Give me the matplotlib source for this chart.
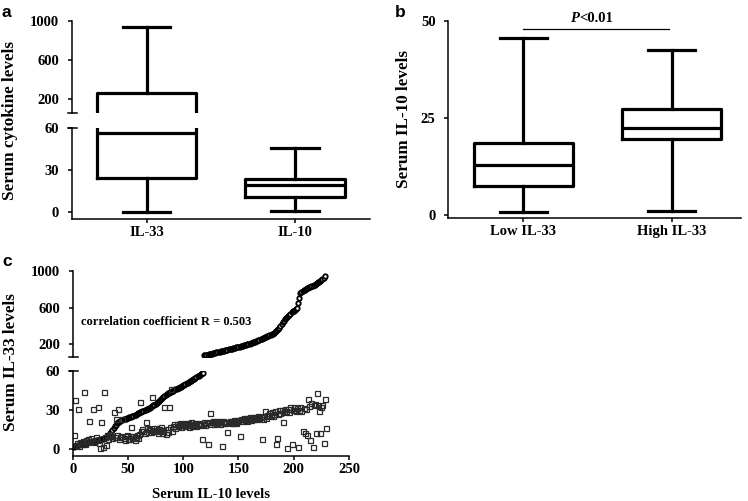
import numpy as np
import matplotlib
matplotlib.use("Agg")
import matplotlib.pyplot as plt

plt.rcParams['font.family'] = ['Liberation Serif', 'DejaVu Serif']
plt.rcParams['font.weight'] = 'bold'
plt.rcParams['axes.labelweight'] = 'bold'

W, H = 748, 501

# panel a: summary of box plots (whislo, q1, med, q3, whishi)
a_labels = ["IL-33", "IL-10"]
a_stats = [[0, 24.1, 56.5, 262, 941],
           [0.7, 10.4, 18.9, 23.4, 45.8]]

# panel b
b_labels = ["Low IL-33", "High IL-33"]
b_stats = [[0.7, 7.55, 13.0, 18.5, 45.7],
           [1.0, 19.7, 22.4, 27.4, 42.5]]

# panel c: IL-33 (sorted, circles) and IL-10 (squares) per sample
il33 = [1.5, 2.0, 2.3, 2.6, 3.0, 3.3, 3.5, 3.8, 4.0, 4.2,
        4.4, 4.6, 4.8, 5.0, 5.2, 5.4, 5.6, 5.8, 6.0, 6.2,
        6.4, 6.6, 6.8, 7.0, 7.2, 7.5, 7.8, 8.2, 8.6, 9.0,
        9.5, 10.2, 11.0, 12.0, 13.2, 14.6, 16.0, 17.4, 18.6, 19.6,
        20.4, 21.0, 21.5, 21.9, 22.3, 22.7, 23.0, 23.3, 23.6, 23.9,
        24.2, 24.5, 24.8, 25.2, 25.6, 26.0, 26.4, 26.8, 27.2, 27.6,
        28.0, 28.4, 28.8, 29.2, 29.6, 30.0, 30.4, 30.8, 31.2, 31.7,
        32.2, 32.8, 33.4, 34.0, 34.7, 35.4, 36.1, 36.8, 37.6, 38.4,
        39.2, 40.0, 40.7, 41.4, 42.0, 42.6, 43.1, 43.6, 44.0, 44.4,
        44.8, 45.2, 45.6, 46.0, 46.4, 46.8, 47.3, 47.8, 48.3, 48.8,
        49.3, 49.8, 50.3, 50.8, 51.3, 51.8, 52.3, 52.8, 53.3, 53.8,
        54.4, 55.0, 55.6, 56.2, 56.8, 57.4, 58.0, 58.6,
        78, 81, 84, 87, 90, 93, 96, 99, 102, 105, 108, 111,
        114, 117, 120, 123, 126, 129, 132, 135, 138, 141,
        144, 147, 150, 153, 156, 159, 162, 165, 168, 171,
        174, 177, 180, 184, 188, 192, 196, 200, 204, 208,
        212, 216, 220, 225, 230, 235, 240, 245, 250, 255,
        260, 265, 270, 275, 280, 285, 290, 296, 302, 308,
        315, 322, 330, 340, 352, 366, 382, 400, 420, 440,
        458, 474, 488, 500, 512, 524, 536, 548, 558, 568,
        578, 588, 598, 650, 710, 760, 775, 785, 792, 798,
        804, 810, 815, 820, 826, 832, 838, 845, 852, 860,
        868, 876, 885, 895, 905, 915, 928, 945]

il10 = [10.7, 37.5, 3.0, 4.5, 30.6, 2.0, 5.5, 3.8, 6.2, 43.4,
        4.0, 6.8, 5.2, 7.5, 21.7, 6.0, 8.2, 31.0, 5.0, 7.0,
        8.8, 6.5, 32.4, 4.2, 1.0, 20.9, 1.8, 43.4, 9.5, 3.0,
        10.5, 8.0, 9.8, 11.2, 10.0, 8.5, 28.5, 9.2, 22.7, 10.8,
        30.6, 7.8, 9.0, 10.2, 22.7, 8.4, 7.2, 9.6, 10.5, 8.0,
        7.5, 9.8, 16.6, 8.2, 10.0, 7.0, 9.2, 10.8, 8.5, 11.5,
        36.2, 13.5, 15.5, 14.0, 12.5, 20.9, 16.0, 13.0, 15.2, 14.2,
        12.8, 40.0, 15.8, 13.5, 16.2, 14.5, 12.2, 15.0, 13.8, 16.5,
        12.0, 14.8, 31.9, 11.5, 15.5, 13.2, 32.4, 16.8, 45.9, 14.0,
        17.5, 18.8, 16.2, 19.5, 17.8, 18.5, 20.2, 17.0, 19.0, 18.2,
        20.0, 17.5, 18.8, 19.6, 17.2, 18.5, 20.5, 17.8, 19.2, 18.0,
        19.8, 17.5, 18.8, 20.2, 18.0, 19.5, 7.4, 19.0, 20.8, 18.5,
        19.8, 3.6, 21.0, 27.3, 19.5, 20.5, 21.5, 19.2, 20.8, 21.8,
        20.0, 21.2, 19.5, 20.8, 2.3, 21.5, 20.2, 19.8, 21.0, 12.8,
        20.5, 21.8, 19.8, 21.2, 20.0, 22.5, 21.0, 19.8, 22.0, 21.2,
        9.9, 23.0, 21.5, 22.8, 24.0, 22.2, 23.5, 21.8, 23.0, 24.5,
        22.5, 23.8, 24.8, 22.8, 23.5, 24.2, 22.8, 25.0, 23.8, 24.5,
        7.4, 23.2, 25.5, 29.0, 24.0, 26.2, 25.0, 27.5, 26.0, 28.2,
        25.5, 27.0, 28.8, 3.6, 8.2, 26.5, 29.5, 27.8, 30.2, 20.9,
        28.5, 31.0, 29.2, 1.0, 30.5, 28.0, 31.8, 3.6, 29.5, 32.0,
        30.2, 28.8, 31.5, 1.8, 30.0, 32.2, 29.0, 14.0, 31.2, 12.5,
        30.5, 10.7, 38.0, 33.0, 6.9, 35.4, 1.8, 33.7, 34.5, 12.0,
        43.0, 33.5, 29.0, 12.0, 32.4, 33.7, 4.8, 38.0, 15.8]

BREAK = 60
BOX_LW = 2.3
SP_LW = 1.1
TICK_FS = 10.5
LAB_FS = 12.3

fig = plt.figure(figsize=(W / 100, H / 100), dpi=100)


def px_axes(l, t, r, b):
    return fig.add_axes([l / W, 1 - b / H, (r - l) / W, (b - t) / H])


def style(ax, bottom=True):
    for s in ['top', 'right']:
        ax.spines[s].set_visible(False)
    ax.spines['left'].set_linewidth(SP_LW)
    ax.spines['bottom'].set_linewidth(SP_LW)
    if not bottom:
        ax.spines['bottom'].set_visible(False)
        ax.tick_params(axis='x', bottom=False, labelbottom=False)
    ax.tick_params(axis='y', direction='out', length=3.2, width=SP_LW,
                   pad=6, labelsize=TICK_FS)
    ax.tick_params(axis='x', direction='out', length=3.2, width=SP_LW,
                   pad=1.5, labelsize=TICK_FS)
    ax.patch.set_alpha(0)


def to_stats(rows, labels):
    return [dict(whislo=r[0], q1=r[1], med=r[2], q3=r[3], whishi=r[4],
                 label=lab) for r, lab in zip(rows, labels)]


def draw_boxes(ax, rows, labels, positions):
    lp = dict(color='black', linewidth=BOX_LW)
    return ax.bxp(to_stats(rows, labels), positions=positions, widths=0.67,
                  capwidths=0.32, showfliers=False, boxprops=lp,
                  whiskerprops=lp, capprops=lp, medianprops=lp,
                  manage_ticks=False)


def break_marks(ax, y, width_px):
    ax.plot([-4 / width_px, 5 / width_px], [y, y], transform=ax.transAxes,
            color='black', lw=SP_LW, clip_on=False)


# ---- panel a ----
a_top = px_axes(72, 21, 370, 112.7)
a_bot = px_axes(72, 127.7, 370, 219)
# upper segment: only the box that reaches above the break
parts = draw_boxes(a_top, a_stats[:1], a_labels[:1], [1])
for m in parts['medians']:
    m.set_visible(m.get_ydata()[0] >= BREAK)
draw_boxes(a_bot, a_stats, a_labels, [1, 2])
for ax in (a_top, a_bot):
    ax.set_xlim(0.496, 2.506)
a_top.set_ylim(BREAK, 1000)
a_top.set_yticks([200, 600, 1000])
a_bot.set_ylim(-5, BREAK)
a_bot.set_yticks([0, 30, 60])
a_bot.set_xticks([1, 2])
a_bot.set_xticklabels(a_labels)
style(a_top, bottom=False)
style(a_bot)
break_marks(a_top, 0, 298)
break_marks(a_bot, 1, 298)
fig.text(10 / W, 1 - 120 / H, "Serum cytokine levels", rotation=90,
         ha='center', va='center', fontsize=LAB_FS)

# ---- panel b ----
b_ax = px_axes(448.3, 21, 741, 218.3)
draw_boxes(b_ax, b_stats, b_labels, [1, 2])
b_ax.set_xlim(0.495, 2.467)
b_ax.set_ylim(-0.85, 50)
b_ax.set_yticks([0, 25, 50])
b_ax.set_xticks([1, 2])
b_ax.set_xticklabels(b_labels)
style(b_ax)
b_ax.plot([1, 1.984], [47.9, 47.9], color='black', lw=0.9, clip_on=False)
fig.text(579 / W, 1 - 18.5 / H, "P", style='italic', ha='right',
         va='center', fontsize=TICK_FS)
fig.text(579 / W, 1 - 18.5 / H, "<0.01", ha='left', va='center',
         fontsize=TICK_FS)
fig.text(404 / W, 1 - 119 / H, "Serum IL-10 levels", rotation=90,
         ha='center', va='center', fontsize=LAB_FS)

# ---- panel c ----
il33 = np.array(il33)
il10 = np.array(il10)
idx33 = np.arange(1, len(il33) + 1)
idx10 = np.arange(1, len(il10) + 1)
hi = il33 >= BREAK
c_top = px_axes(72.7, 271, 349, 357.1)
c_bot = px_axes(72.7, 370.7, 349, 456)
c_top.plot(idx33[hi], il33[hi], 'o', ms=3.2, mfc='white', mec='black',
           mew=1.3)
c_bot.plot(idx33[~hi], il33[~hi], 'o', ms=3.2, mfc='white', mec='black',
           mew=1.3)
c_bot.plot(idx10, il10, 's', ms=3.6, mfc='none', mec='#2a2a2a', mew=0.9)
for ax in (c_top, c_bot):
    ax.set_xlim(0, 250)
c_top.set_ylim(BREAK, 1000)
c_top.set_yticks([200, 600, 1000])
c_bot.set_ylim(-5.4, BREAK)
c_bot.set_yticks([0, 30, 60])
c_bot.set_xticks([0, 50, 100, 150, 200, 250])
style(c_top, bottom=False)
style(c_bot)
break_marks(c_top, 0, 276)
break_marks(c_bot, 1, 276)
c_bot.set_xlabel("Serum IL-10 levels", fontsize=TICK_FS, labelpad=9)
fig.text(11 / W, 1 - 362 / H, "Serum IL-33 levels", rotation=90,
         ha='center', va='center', fontsize=LAB_FS)
fig.text(80.7 / W, 1 - 321.7 / H, "correlation coefficient R = 0.503",
         ha='left', va='center', fontsize=9)

# panel letters
for lt, x, y in [("a", 2, 17), ("b", 395, 17), ("c", 2, 266)]:
    fig.text(x / W, 1 - y / H, lt, family='Liberation Sans',
             fontweight='bold', fontsize=12.5, ha='left', va='baseline')

fig.savefig("out.png", dpi=100)
